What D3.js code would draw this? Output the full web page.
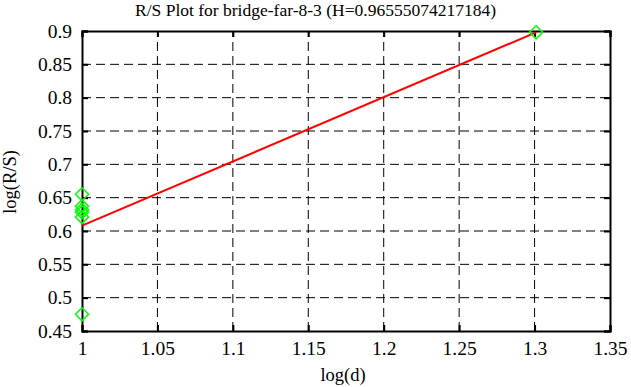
<!DOCTYPE html>
<html>
<head>
<meta charset="utf-8">
<script src="https://cdn.jsdelivr.net/npm/d3@7"></script>
<style>
body { margin: 0; background: #fff; }
svg text { font-family: "Liberation Serif", "Times New Roman", Times, serif !important; fill: #000; }
</style>
</head>
<body>
<script>
// data
var pointX = [1, 1, 1, 1, 1, 1, 1.30103];
var pointY = [0.475, 0.621, 0.628, 0.632, 0.637, 0.655, 0.898];
var fitX = [1, 1.30103];
var fitY = [0.608, 0.898];
var xTicks = [1, 1.05, 1.1, 1.15, 1.2, 1.25, 1.3, 1.35];
var yTicks = [0.45, 0.5, 0.55, 0.6, 0.65, 0.7, 0.75, 0.8, 0.85, 0.9];

var W = 631, H = 387;
var m = { left: 82, right: 21, top: 31, bottom: 56 };

var svg = d3.select("body").append("svg")
  .attr("width", W)
  .attr("height", H);

var x = d3.scaleLinear().domain([1, 1.35]).range([m.left, W - m.right]);
var y = d3.scaleLinear().domain([0.45, 0.9]).range([H - m.bottom, m.top]);

// grid
svg.append("g").selectAll("line").data(xTicks.slice(1, -1)).enter().append("line")
  .attr("x1", d => x(d)).attr("x2", d => x(d))
  .attr("y1", y(0.45)).attr("y2", y(0.9))
  .attr("stroke", "#000").attr("stroke-width", 1)
  .attr("stroke-dasharray", "9,5");
svg.append("g").selectAll("line").data(yTicks.slice(1, -1)).enter().append("line")
  .attr("y1", d => y(d)).attr("y2", d => y(d))
  .attr("x1", x(1)).attr("x2", x(1.35))
  .attr("stroke", "#000").attr("stroke-width", 1)
  .attr("stroke-dasharray", "9,5");

// axes, ticks pointing inwards
svg.append("g")
  .attr("transform", "translate(0," + (H - m.bottom) + ")")
  .call(d3.axisBottom(x).tickValues(xTicks).tickSize(-6).tickPadding(10).tickFormat(d3.format("")));
svg.append("g")
  .attr("transform", "translate(0," + m.top + ")")
  .call(d3.axisTop(x).tickValues(xTicks).tickSize(-6).tickFormat(""));
svg.append("g")
  .attr("transform", "translate(" + m.left + ",0)")
  .call(d3.axisLeft(y).tickValues(yTicks).tickSize(-6).tickPadding(10).tickFormat(d3.format("")));
svg.append("g")
  .attr("transform", "translate(" + (W - m.right) + ",0)")
  .call(d3.axisRight(y).tickValues(yTicks).tickSize(-6).tickFormat(""));

svg.selectAll("g").attr("font-family", null);
svg.selectAll(".domain").attr("stroke", "#000").attr("stroke-width", 2);
svg.selectAll(".tick line").attr("stroke", "#000").attr("stroke-width", 2);
svg.selectAll(".tick text").style("font-size", "19.5px");

// fit line
var line = d3.line().x(d => x(d[0])).y(d => y(d[1]));
svg.append("path")
  .datum(d3.zip(fitX, fitY))
  .attr("d", line)
  .attr("fill", "none")
  .attr("stroke", "#ff0000")
  .attr("stroke-width", 2);

// points
var sym = d3.symbol().type(d3.symbolDiamond2).size(110);
svg.append("g").selectAll("path").data(d3.zip(pointX, pointY)).enter().append("path")
  .attr("d", sym)
  .attr("transform", d => "translate(" + x(d[0]) + "," + y(d[1]) + ")")
  .attr("fill", "none")
  .attr("stroke", "#00ff00")
  .attr("stroke-width", 1.5);

// title and labels
svg.append("text")
  .attr("x", W / 2)
  .attr("y", 16)
  .attr("text-anchor", "middle")
  .style("font-size", "17.5px")
  .text("R/S Plot for bridge-far-8-3 (H=0.96555074217184)");

svg.append("text")
  .attr("x", 343)
  .attr("y", 381)
  .attr("text-anchor", "middle")
  .style("font-size", "18.5px")
  .text("log(d)");

svg.append("text")
  .attr("transform", "translate(16,182) rotate(-90)")
  .attr("text-anchor", "middle")
  .style("font-size", "18.5px")
  .text("log(R/S)");
</script>
</body>
</html>
